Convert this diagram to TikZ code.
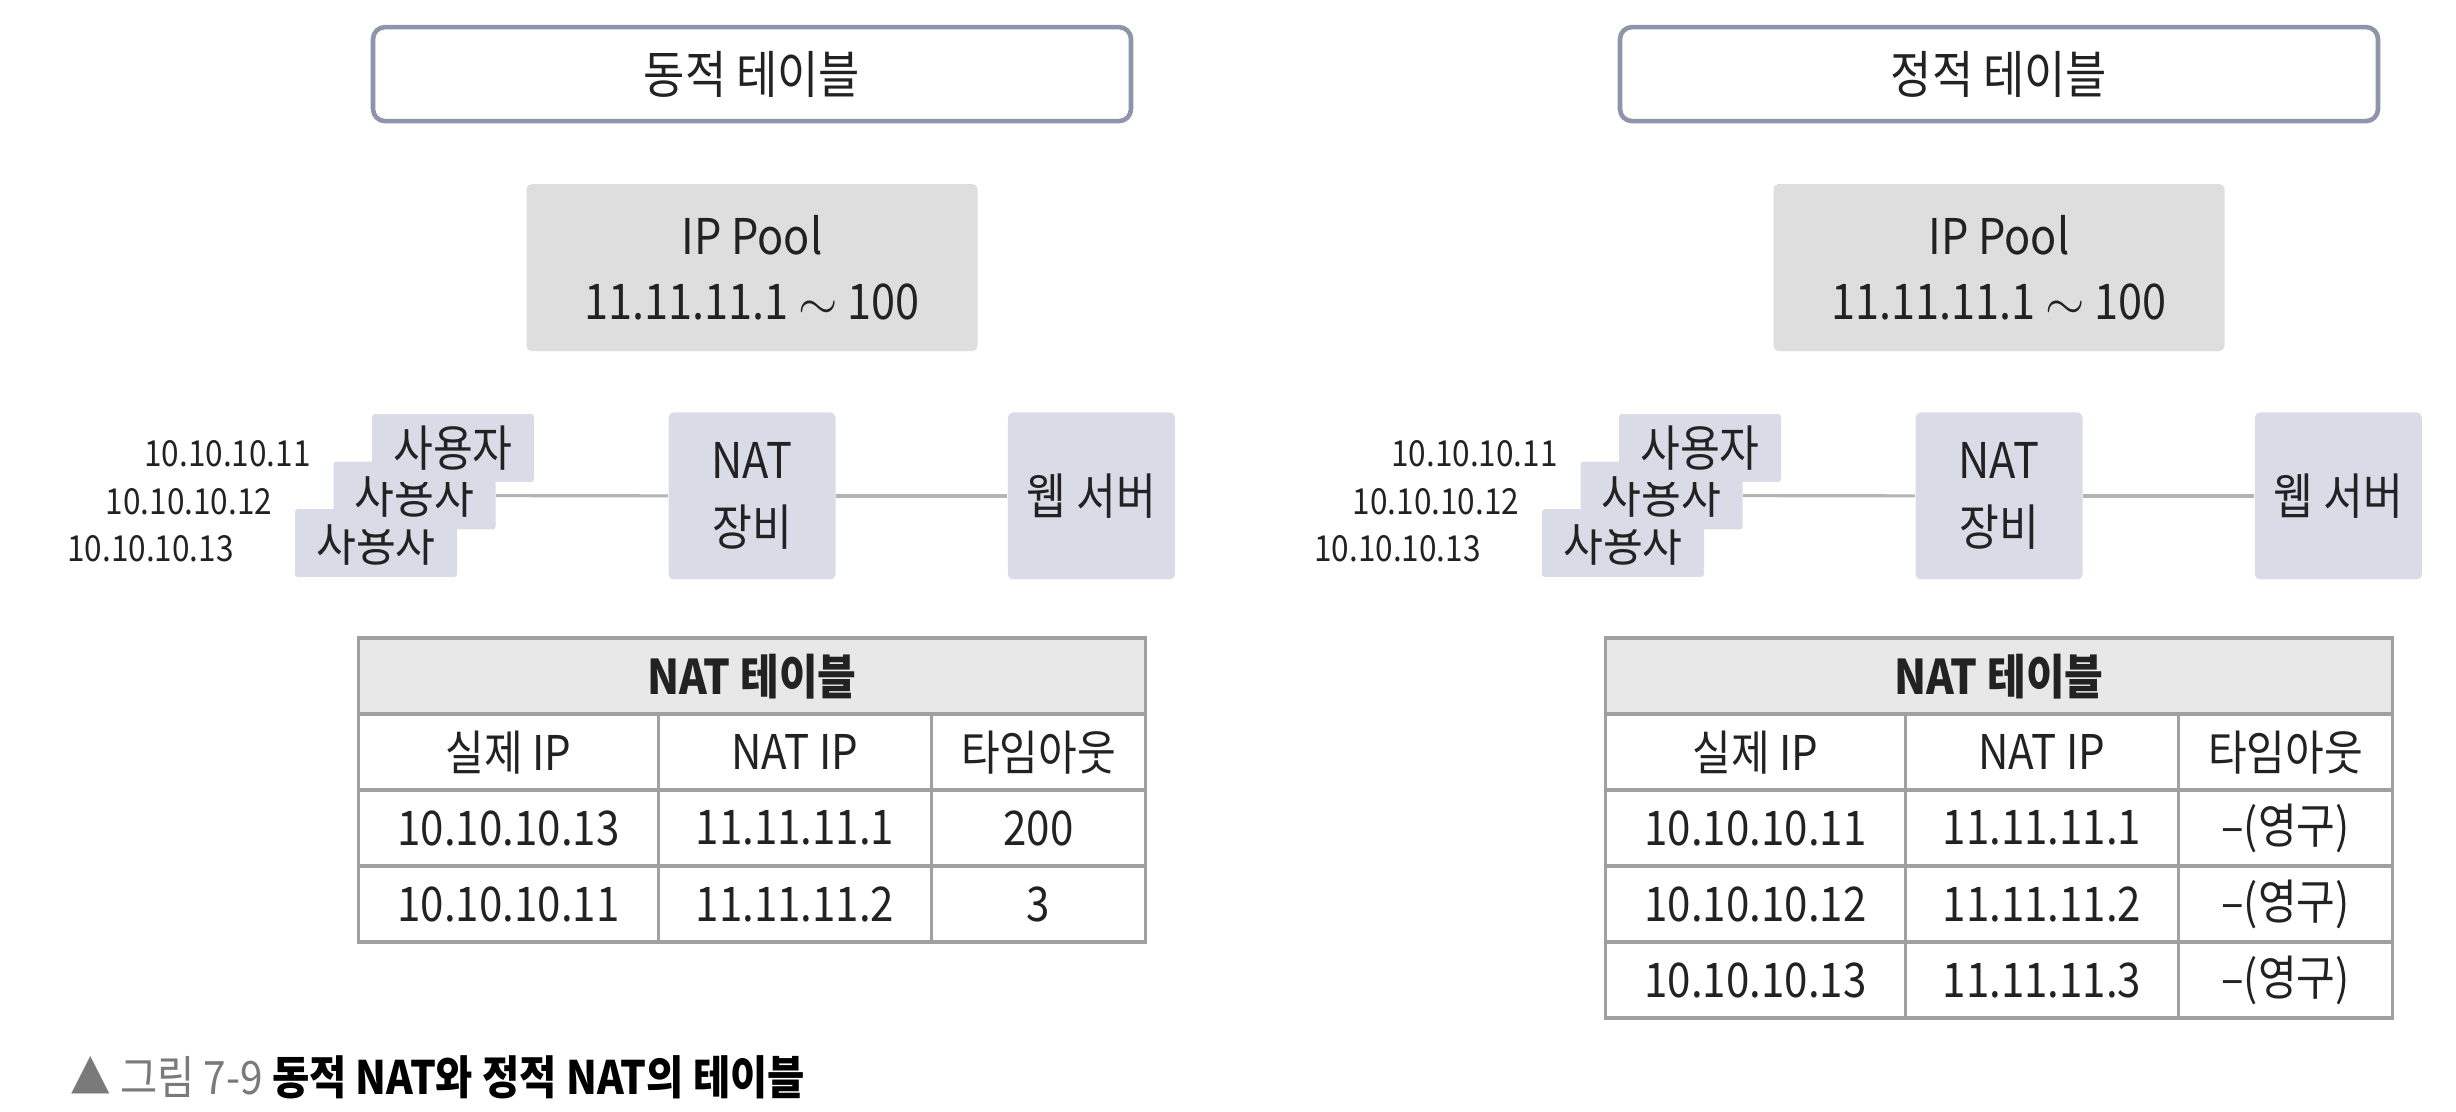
\documentclass[tikz,border=0pt]{standalone}
\usepackage{fontspec}
\setmainfont{Noto Sans CJK KR}[FakeStretch=0.88]
\usetikzlibrary{positioning}
\definecolor{poolgray}{HTML}{DEDEDE}
\definecolor{devblue}{HTML}{D9DCE7}
\definecolor{titleline}{HTML}{8D95AB}
\definecolor{tabline}{HTML}{A0A0A0}
\definecolor{tabhead}{HTML}{E8E8E8}
\definecolor{wire}{HTML}{B4B4B4}
\definecolor{inktext}{HTML}{222222}
\definecolor{capgray}{HTML}{7A7A7A}
\tikzset{
    titlebox/.style={rectangle, rounded corners=0.12cm, minimum width=7.58cm, minimum height=0.94cm, draw=titleline, line width=1.3pt, fill=white, font=\fontsize{14.5}{17}\selectfont},
    poolbox/.style={rectangle, rounded corners=0.05cm, minimum width=4.51cm, minimum height=1.67cm, fill=poolgray, align=center, font=\fontsize{14}{18.5}\selectfont},
    devbox/.style={rectangle, rounded corners=0.05cm, minimum width=1.67cm, minimum height=1.67cm, fill=devblue, align=center, font=\fontsize{14}{19}\selectfont},
    userbox/.style={rectangle, rounded corners=0.03cm, minimum width=1.62cm, minimum height=0.66cm, fill=devblue, font=\fontsize{14}{17}\selectfont},
    iplabel/.style={font=\fontsize{10.2}{13}\selectfont, inner sep=0pt},
    link/.style={draw=wire, line width=0.9pt},
    cell/.style={rectangle, draw=tabline, line width=1pt, outer sep=0pt, inner sep=0pt, minimum height=0.76cm, font=\fontsize{13.6}{17}\selectfont},
    headcell/.style={cell, fill=tabhead, minimum width=7.87cm, font=\bfseries\fontsize{13.6}{17}\selectfont},
    colA/.style={minimum width=3cm},
    colB/.style={minimum width=2.73cm},
    colC/.style={minimum width=2.14cm},
}

\begin{document}
\begin{tikzpicture}[text=inktext]
  \useasboundingbox[fill=white] (0,0) rectangle (24.56,-11.12);

  % dynamic table (left)
  \node[devbox] (Lnat) at (7.52,-4.96) {NAT\\장비};
  \node[devbox, right=1.71cm of Lnat] (Lweb) {웹 서버};
  \node[poolbox, above=0.6cm of Lnat] (Lpool) {IP Pool\\11.11.11.1 $\sim$ 100};
  \node[titlebox, above=0.6cm of Lpool] (Ltitle) {동적 테이블};
  \foreach \ip [count=\u] in {10.10.10.13, 10.10.10.12, 10.10.10.11} {
    \node[userbox] (Luser\u) at ({3.76+0.385*(\u-1)}, {-5.43+0.475*(\u-1)}) {사용자};
    \node[iplabel, left=0.6cm of Luser\u, yshift=-0.06cm] (Lip\u) {\ip};
  }
  \draw[link] (Luser2) -- (Lnat);
  \draw[link] (Lnat) -- (Lweb);

  \node[headcell, below=0.58cm of Lnat, alias=Lc0] (Lhead) {NAT 테이블};
  \foreach \real/\natip/\tout [count=\r, remember=\r as \p (initially 0)] in
      {실제 IP/NAT IP/타임아웃, 10.10.10.13/11.11.11.1/200, 10.10.10.11/11.11.11.2/3} {
    \node[cell, colA, below right=0pt of Lc\p.south west] (Lc\r) {\real};
    \node[cell, colB, right=0pt of Lc\r] (Ln\r) {\natip};
    \node[cell, colC, right=0pt of Ln\r] (Lt\r) {\tout};
  }

  % static table (right)
  \node[devbox] (Rnat) at (19.99,-4.96) {NAT\\장비};
  \node[devbox, right=1.71cm of Rnat] (Rweb) {웹 서버};
  \node[poolbox, above=0.6cm of Rnat] (Rpool) {IP Pool\\11.11.11.1 $\sim$ 100};
  \node[titlebox, above=0.6cm of Rpool] (Rtitle) {정적 테이블};
  \foreach \ip [count=\u] in {10.10.10.13, 10.10.10.12, 10.10.10.11} {
    \node[userbox] (Ruser\u) at ({16.23+0.385*(\u-1)}, {-5.43+0.475*(\u-1)}) {사용자};
    \node[iplabel, left=0.6cm of Ruser\u, yshift=-0.06cm] (Rip\u) {\ip};
  }
  \draw[link] (Ruser2) -- (Rnat);
  \draw[link] (Rnat) -- (Rweb);

  \node[headcell, below=0.58cm of Rnat, alias=Rc0] (Rhead) {NAT 테이블};
  \foreach \real/\natip/\tout [count=\r, remember=\r as \p (initially 0)] in
      {실제 IP/NAT IP/타임아웃, 10.10.10.11/11.11.11.1/--(영구), 10.10.10.12/11.11.11.2/--(영구), 10.10.10.13/11.11.11.3/--(영구)} {
    \node[cell, colA, below right=0pt of Rc\p.south west] (Rc\r) {\real};
    \node[cell, colB, right=0pt of Rc\r] (Rn\r) {\natip};
    \node[cell, colC, right=0pt of Rn\r] (Rt\r) {\tout};
  }

  % caption
  \node[anchor=west, inner sep=0pt, font=\fontsize{13.1}{15}\selectfont] (caption) at (0.70,-10.77)
    {\textcolor{capgray}{▲ 그림 7-9} \textbf{\color{black}동적 NAT와 정적 NAT의 테이블}};
\end{tikzpicture}
\end{document}
